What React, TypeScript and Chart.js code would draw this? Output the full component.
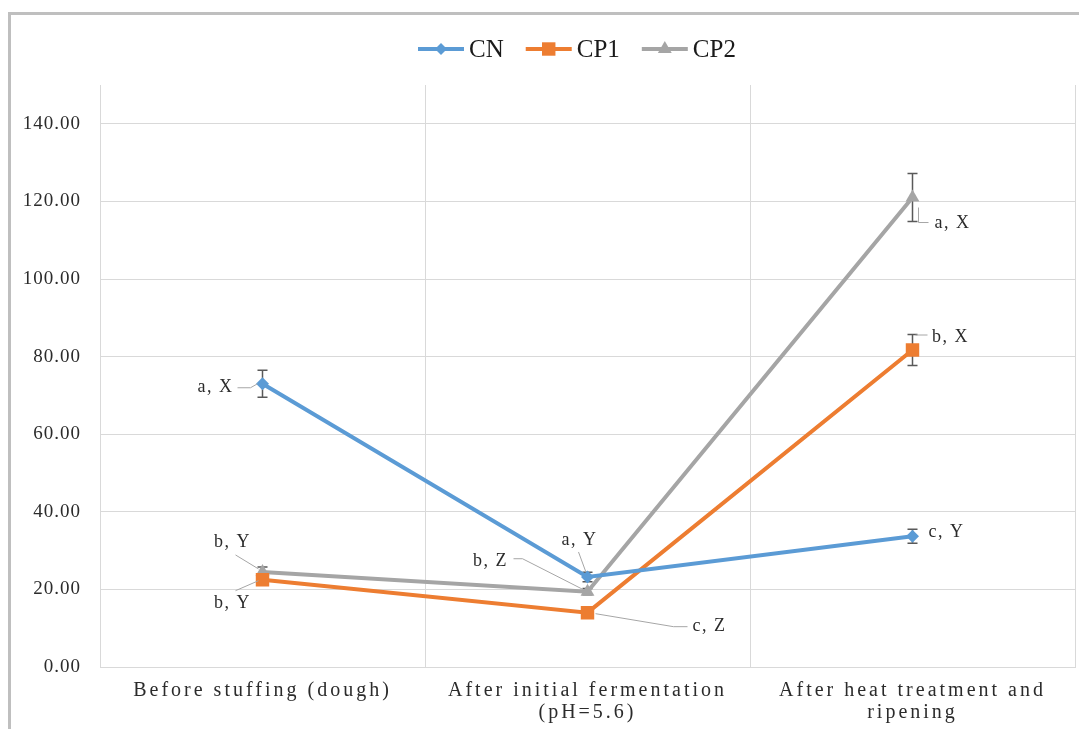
import React, { useEffect, useRef } from 'react';
import { Chart, registerables } from 'chart.js';

Chart.register(...registerables);

const FONT = "'Liberation Serif', 'Times New Roman', serif";

// ---------- data ----------
const categoryLines = [
  ['Before stuffing (dough)'],
  ['After initial fermentation', '(pH=5.6)'],
  ['After heat treatment and', 'ripening'],
];
const seriesNames = ['CN', 'CP1', 'CP2'];
const cnValues = [73.0, 23.2, 33.7];
const cp1Values = [22.5, 14.0, 81.7];
const cp2Values = [24.5, 19.4, 121.0];
const cnErrors = [3.5, 1.2, 1.8];
const cp1Errors = [0.8, 0.6, 4.0];
const cp2Errors = [1.3, 0.8, 6.2];
const cnLetters = ['a, X', 'a, Y', 'c, Y'];
const cp1Letters = ['b, Y', 'c, Z', 'b, X'];
const cp2Letters = ['b, Y', 'b, Z', 'a, X'];
const yTickValues = [0, 20, 40, 60, 80, 100, 120, 140];
const yMin = 0;
const yMax = 150;

// ---------- styles ----------
const seriesColors = ['#5B9BD5', '#ED7D31', '#A5A5A5'];
const seriesPointStyles = ['rectRot', 'rect', 'triangle'];
const seriesPointRadii = [6.5, 9.5, 8];
const legendPointRadii = [6, 9.5, 8];
const TEXT_COLOR = '#2B2B2B';

type Place = { dx: number; dy: number; leader: number[][] | null };
// label placement relative to each point (pixels)
const labelPlacement: Place[][] = [
  [
    { dx: -47, dy: 4, leader: [[-25, 4], [-12, 4], [-5, 0]] },
    { dx: -8, dy: -37, leader: [[-9, -25], [-2, -6]] },
    { dx: 34, dy: -4, leader: null },
  ],
  [
    { dx: -30, dy: 24, leader: [[-27, 11], [-4, 1]] },
    { dx: 122, dy: 14, leader: [[8, 1], [86, 14], [100, 14]] },
    { dx: 38, dy: -13, leader: [[3, -15], [15, -15]] },
  ],
  [
    { dx: -30, dy: -30, leader: [[-27, -17], [-4, -3]] },
    { dx: -97, dy: -30, leader: [[-74, -33], [-65, -33], [-4, -2]] },
    { dx: 40, dy: 26, leader: [[6, 10], [6, 25], [16, 25]] },
  ],
];

function drawMarker(ctx: CanvasRenderingContext2D, style: string, x: number, y: number, r: number, color: string) {
  ctx.save();
  ctx.fillStyle = color;
  ctx.beginPath();
  if (style === 'rectRot') {
    ctx.moveTo(x, y - r);
    ctx.lineTo(x + r, y);
    ctx.lineTo(x, y + r);
    ctx.lineTo(x - r, y);
  } else if (style === 'rect') {
    const s = r * Math.SQRT1_2;
    ctx.rect(x - s, y - s, 2 * s, 2 * s);
  } else {
    let rad = 0;
    ctx.moveTo(x + Math.sin(rad) * r, y - Math.cos(rad) * r);
    rad += (Math.PI * 2) / 3;
    ctx.lineTo(x + Math.sin(rad) * r, y - Math.cos(rad) * r);
    rad += (Math.PI * 2) / 3;
    ctx.lineTo(x + Math.sin(rad) * r, y - Math.cos(rad) * r);
  }
  ctx.closePath();
  ctx.fill();
  ctx.restore();
}

const annotPlugin = {
  id: 'annot',
  beforeDraw(chart: any) {
    (chart.ctx as any).letterSpacing = '1px';
  },
  beforeDatasetsDraw(chart: any) {
    const ctx: CanvasRenderingContext2D = chart.ctx;
    (ctx as any).letterSpacing = '0px';
    const yScale = chart.scales.y;
    chart.data.datasets.forEach((ds: any, di: number) => {
      const meta = chart.getDatasetMeta(di);
      meta.data.forEach((pt: any, i: number) => {
        const v = ds.data[i];
        const e = ds.errors[i];
        const yt = yScale.getPixelForValue(v + e);
        const yb = yScale.getPixelForValue(v - e);
        ctx.save();
        ctx.strokeStyle = '#595959';
        ctx.lineWidth = 1.5;
        ctx.beginPath();
        ctx.moveTo(pt.x, yt);
        ctx.lineTo(pt.x, yb);
        ctx.moveTo(pt.x - 5, yt);
        ctx.lineTo(pt.x + 5, yt);
        ctx.moveTo(pt.x - 5, yb);
        ctx.lineTo(pt.x + 5, yb);
        ctx.stroke();
        ctx.restore();
      });
    });
  },
  afterDatasetsDraw(chart: any) {
    const ctx: CanvasRenderingContext2D = chart.ctx;
    chart.data.datasets.forEach((ds: any, di: number) => {
      const meta = chart.getDatasetMeta(di);
      meta.data.forEach((pt: any, i: number) => {
        const place = labelPlacement[di][i];
        ctx.save();
        if (place.leader) {
          ctx.strokeStyle = '#A6A6A6';
          ctx.lineWidth = 1;
          ctx.beginPath();
          place.leader.forEach((p, k) => {
            if (k === 0) ctx.moveTo(pt.x + p[0], pt.y + p[1]);
            else ctx.lineTo(pt.x + p[0], pt.y + p[1]);
          });
          ctx.stroke();
        }
        (ctx as any).letterSpacing = '1.5px';
        ctx.font = `18px ${FONT}`;
        ctx.fillStyle = TEXT_COLOR;
        ctx.textAlign = 'center';
        ctx.textBaseline = 'middle';
        ctx.fillText(ds.letters[i], pt.x + place.dx, pt.y + place.dy);
        ctx.restore();
      });
    });
  },
  afterDraw(chart: any) {
    const ctx: CanvasRenderingContext2D = chart.ctx;
    // x-axis category labels
    const xScale = chart.scales.x;
    ctx.save();
    (ctx as any).letterSpacing = '3px';
    ctx.font = `20px ${FONT}`;
    ctx.fillStyle = TEXT_COLOR;
    ctx.textAlign = 'center';
    ctx.textBaseline = 'middle';
    categoryLines.forEach((lines, i) => {
      const x = xScale.getPixelForValue(i);
      lines.forEach((t, k) => {
        ctx.fillText(t, x, chart.chartArea.bottom + 24 + k * 22);
      });
    });
    ctx.restore();

    // legend
    ctx.save();
    (ctx as any).letterSpacing = '0px';
    ctx.font = `25px ${FONT}`;
    ctx.textBaseline = 'middle';
    ctx.textAlign = 'left';
    let lx = 407;
    const ly = 34;
    chart.data.datasets.forEach((ds: any, di: number) => {
      ctx.strokeStyle = seriesColors[di];
      ctx.lineWidth = 4;
      ctx.beginPath();
      ctx.moveTo(lx, ly);
      ctx.lineTo(lx + 46, ly);
      ctx.stroke();
      drawMarker(ctx, seriesPointStyles[di], lx + 23, ly, legendPointRadii[di], seriesColors[di]);
      ctx.fillStyle = '#1A1A1A';
      ctx.fillText(ds.label, lx + 51, ly + 1);
      lx += 51 + ctx.measureText(ds.label).width + 22;
    });
    ctx.restore();
  },
};

export default function App() {
  const canvasRef = useRef<HTMLCanvasElement | null>(null);

  useEffect(() => {
    document.documentElement.style.overflow = 'hidden';
    document.body.style.overflow = 'hidden';
    const canvas = canvasRef.current;
    if (!canvas) return;
    const values = [cnValues, cp1Values, cp2Values];
    const errors = [cnErrors, cp1Errors, cp2Errors];
    const letters = [cnLetters, cp1Letters, cp2Letters];
    const chart = new Chart(canvas, {
      type: 'line',
      data: {
        labels: categoryLines as any,
        datasets: seriesNames.map((name, i) => ({
          label: name,
          data: values[i],
          errors: errors[i],
          letters: letters[i],
          borderColor: seriesColors[i],
          backgroundColor: seriesColors[i],
          borderWidth: 4,
          pointStyle: seriesPointStyles[i] as any,
          pointRadius: seriesPointRadii[i],
          pointBorderWidth: 0,
          pointBackgroundColor: seriesColors[i],
          pointBorderColor: seriesColors[i],
          tension: 0,
          fill: false,
        })) as any,
      },
      options: {
        animation: false,
        responsive: false,
        maintainAspectRatio: false,
        layout: { padding: { top: 70, right: 12, left: 0, bottom: 0 } },
        plugins: {
          legend: { display: false },
          tooltip: { enabled: false },
          title: { display: false },
        },
        scales: {
          x: {
            type: 'category',
            offset: true,
            grid: { display: true, offset: true, color: '#D9D9D9', lineWidth: 1, drawTicks: false },
            border: { display: true, color: '#D9D9D9', width: 1 },
            ticks: { display: false },
            afterFit: (scale: any) => {
              scale.height = 62;
            },
          },
          y: {
            min: yMin,
            max: yMax,
            grid: { color: '#D9D9D9', lineWidth: 1, drawTicks: false },
            border: { display: true, color: '#D9D9D9', width: 1 },
            ticks: {
              padding: 19,
              color: TEXT_COLOR,
              font: { family: FONT, size: 19 },
              callback: (v: any) => Number(v).toFixed(2),
            },
            afterBuildTicks: (scale: any) => {
              scale.ticks = yTickValues.map((v) => ({ value: v }));
            },
            afterFit: (scale: any) => {
              scale.width = 89;
            },
          },
        },
      } as any,
      plugins: [annotPlugin as any],
    });
    return () => {
      chart.destroy();
    };
  }, []);

  return (
    <div
      style={{
        marginTop: 4,
        width: 1079,
        height: 717,
        borderTop: '3px solid #BFBFBF',
        borderLeft: '3px solid #BFBFBF',
        boxSizing: 'border-box',
        background: '#FFFFFF',
      }}
    >
      <canvas ref={canvasRef} width={1076} height={714} style={{ display: 'block', width: 1076, height: 714 }} />
    </div>
  );
}
